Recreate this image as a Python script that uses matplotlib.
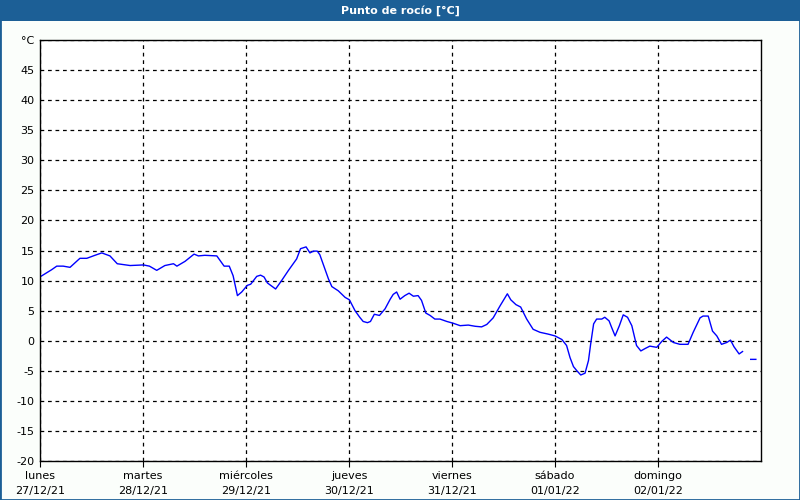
import numpy as np
import matplotlib.pyplot as plt
from matplotlib.patches import Rectangle

# hours since lunes 27/12/21 00:00, dew point in degC (nan = gap)
hours = [0.2, 2.7, 3.9, 5.4, 7.0, 9.3, 10.9, 12.8, 14.4, 16.3, 18.0, 21.0,
         24.1, 25.5, 27.2, 29.1, 31.1, 31.9, 33.8, 35.9, 36.9, 38.4, 41.2,
         42.9, 44.1, 45.0, 46.0, 47.0, 48.3, 49.1, 50.5, 51.4, 52.2, 53.0,
         54.9, 56.3, 57.9, 59.8, 60.7, 62.0, 62.9, 63.7, 64.6, 65.2, 66.2,
         67.2, 68.0, 69.5, 71.1, 72.1, 73.4, 74.5, 75.3, 76.3, 77.0, 77.9,
         79.1, 80.4, 81.6, 82.3, 83.1, 83.9, 85.0, 86.0, 87.0, 88.1, 88.9,
         89.9, 90.9, 92.0, 93.2, 94.8, 96.3, 97.9, 99.8, 101.4, 102.9, 104.1,
         105.6, 107.2, 108.9, 109.7, 110.9, 112.0, 113.4, 114.9, 116.5, 118.4,
         120.0, 121.6, 122.7, 123.5, 124.3, 125.1, 126.0, 127.0, 127.8, 128.3,
         129.0, 129.7, 130.9, 131.6, 132.6, 133.2, 134.0, 135.0, 135.9, 136.9,
         137.9, 139.0, 140.0, 141.0, 142.1, 143.7, 144.9, 146.0, 147.6, 149.1,
         151.0, 152.2, 153.8, 154.5, 155.7, 156.7, 157.7, 158.8, 160.0, 160.9,
         161.7, 162.9, 163.7, 164.6, 165.6, 166.8]
dew = [10.7, 11.8, 12.4, 12.4, 12.2, 13.7, 13.7, 14.2, 14.6, 14.1, 12.8, 12.5,
       12.6, 12.4, 11.7, 12.5, 12.8, 12.4, 13.2, 14.4, 14.1, 14.2, 14.1,
       12.4, 12.4, 10.8, 7.5, 8.1, 9.2, 9.4, 10.7, 10.9, 10.6, 9.6,
       8.6, 10.0, 11.7, 13.6, 15.3, 15.6, 14.6, 14.9, 14.9, 14.3, 12.3,
       10.3, 9.0, 8.3, 7.2, 6.8, 5.0, 3.9, 3.2, 3.0, 3.2, 4.4,
       4.2, 5.3, 6.9, 7.7, 8.1, 6.9, 7.5, 7.9, 7.4, 7.5, 6.7,
       4.6, 4.2, 3.6, 3.6, 3.2, 2.9, 2.5, 2.6, 2.4, 2.3, 2.7,
       3.8, 5.8, 7.8, 6.8, 6.0, 5.6, 3.6, 1.9, 1.4, 1.1,
       0.8, 0.2, -0.8, -2.8, -4.3, -5.0, -5.7, -5.4, -3.3, -0.6,
       2.8, 3.6, 3.6, 3.9, 3.3, 2.2, 0.8, 2.5, 4.3, 3.9,
       2.5, -0.8, -1.7, -1.3, -0.9, -1.1, -0.1, 0.6, -0.3, -0.6,
       -0.6, 1.4, 3.8, 4.1, 4.1, 1.6, 0.8, -0.6, -0.3, 0.1,
       -1.0, -2.2, -1.8, np.nan, -3.1, -3.1]

days = ['lunes', 'martes', 'miércoles', 'jueves', 'viernes', 'sábado', 'domingo']
dates = ['27/12/21', '28/12/21', '29/12/21', '30/12/21', '31/12/21', '01/01/22', '02/01/22']
yticks = list(range(-20, 51, 5))

blue = '#1c5f96'
fig = plt.figure(figsize=(8, 5), dpi=100, facecolor='#fbfefb')

# title bar and thin border
fig.patches.append(Rectangle((0, 0.958), 1, 0.042, transform=fig.transFigure,
                             facecolor=blue, edgecolor='none', zorder=0))
fig.patches.append(Rectangle((0, 0), 1, 1, transform=fig.transFigure,
                             facecolor='none', edgecolor=blue, lw=2, zorder=1))
fig.text(0.5, 0.979, 'Punto de rocío [°C]', color='white', fontsize=8,
         fontweight='bold', ha='center', va='center')

ax = fig.add_axes([0.05, 0.078, 0.90125, 0.842])
ax.plot(hours, dew, color='#0000ff', lw=1)

ax.set_xlim(0, 168)
ax.set_ylim(-20, 50)
ax.set_xticks([24 * i for i in range(len(days))])
ax.set_xticklabels([d + '\n' + t for d, t in zip(days, dates)], fontsize=8,
                   linespacing=1.6)
ax.set_yticks(yticks)
ax.set_yticklabels([str(v) for v in yticks[:-1]] + ['°C'], fontsize=8)
ax.tick_params(axis='x', length=4, pad=3)
ax.tick_params(axis='y', length=0, pad=4)
ax.grid(True, color='black', linestyle=(0, (3, 3)), lw=0.9)
for s in ax.spines.values():
    s.set_linewidth(1)

plt.savefig('out.png', dpi=100, facecolor=fig.get_facecolor())
